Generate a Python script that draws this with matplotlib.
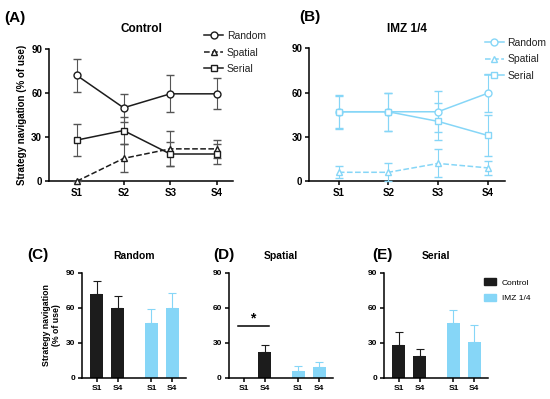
# -*- coding: utf-8 -*-
import numpy as np
import matplotlib
matplotlib.use('Agg')
import matplotlib.pyplot as plt
from matplotlib.patches import Patch
from matplotlib.lines import Line2D

plt.rcParams['font.family'] = ['Liberation Sans', 'DejaVu Sans']

# data (% of use, mean and SEM) per session
sessions = ['S1', 'S2', 'S3', 'S4']
ctrl_random = [72, 50, 59.5, 59.5]
ctrl_random_err = [11, 9.5, 12.5, 10.5]
ctrl_spatial = [0, 15.5, 22, 22]
ctrl_spatial_err = [0, 9.5, 12, 6]
ctrl_serial = [28, 34.5, 18.5, 18.5]
ctrl_serial_err = [11, 9.5, 8, 6.5]

imz_random = [47, 47, 47, 59.5]
imz_random_err = [11.5, 13, 14, 13]
imz_spatial = [6, 6, 12, 9]
imz_spatial_err = [4, 6, 9.5, 4.5]
imz_serial = [47, 47, 40.5, 31]
imz_serial_err = [11, 13, 12.5, 14]

bar_labels = ['S1', 'S4', 'S1', 'S4']
groups = ['Control', 'IMZ 1/4']
blue = '#86d6f7'
black = '#1c1c1c'

fig = plt.figure(figsize=(5.5, 3.99), dpi=100)


def style_axis(ax, fs):
    for s in ['top', 'right']:
        ax.spines[s].set_visible(False)
    for s in ['left', 'bottom']:
        ax.spines[s].set_linewidth(1.1)
    ax.tick_params(width=1.1, length=3, labelsize=fs, pad=2)
    for lb in ax.get_xticklabels() + ax.get_yticklabels():
        lb.set_fontweight('bold')


def line_panel(rect, data, color, title, ylabel=None, legpos=None):
    ax = fig.add_axes(rect)
    x = np.arange(1, 5)
    styles = [('o', '-', 'Random'), ('^', '--', 'Spatial'), ('s', '-', 'Serial')]
    ecol = '#555555' if color == black else color
    handles = []
    for (vals, err), (m, ls, name) in zip(data, styles):
        ax.errorbar(x, vals, yerr=err, color=color, ecolor=ecol, elinewidth=0.8,
                    capsize=3, capthick=0.8, marker=m, markersize=5,
                    markerfacecolor='white', markeredgewidth=1, linestyle=ls,
                    linewidth=1.1, clip_on=False, zorder=3)
        handles.append(Line2D([], [], color=color, marker=m, markersize=5,
                              markerfacecolor='white', linestyle=ls, linewidth=1.1))
    ax.set_xlim(0.4, 4.35)
    ax.set_ylim(0, 90)
    ax.set_yticks([0, 30, 60, 90])
    ax.set_xticks(x)
    ax.set_xticklabels(sessions)
    style_axis(ax, 7)
    ax.set_title(title, fontsize=8.5, fontweight='bold', pad=12)
    if ylabel:
        ax.set_ylabel(ylabel, fontsize=7, fontweight='bold', labelpad=3)
    leg = ax.legend(handles, ['Random', 'Spatial', 'Serial'], loc='upper left',
                    bbox_to_anchor=legpos, bbox_transform=fig.transFigure,
                    frameon=False, fontsize=7.5, handlelength=1.8,
                    handletextpad=0.35, labelspacing=0.62, borderpad=0)
    for t in leg.get_texts():
        t.set_color('#222222')
    return ax


# (A) Control
line_panel([0.089, 0.546, 0.335, 0.331], [(ctrl_random, ctrl_random_err),
           (ctrl_spatial, ctrl_spatial_err), (ctrl_serial, ctrl_serial_err)],
           black, 'Control', 'Strategy navigation (% of use)', (0.362, 0.935))
fig.text(0.008, 0.955, '(A)', fontsize=11, fontweight='bold', va='center')

# (B) IMZ 1/4
line_panel([0.562, 0.546, 0.356, 0.333], [(imz_random, imz_random_err),
           (imz_spatial, imz_spatial_err), (imz_serial, imz_serial_err)],
           blue, 'IMZ 1/4', None, (0.872, 0.918))
fig.text(0.545, 0.957, '(B)', fontsize=11, fontweight='bold', va='center')

# bar panels: S1 and S4 for each group
bar_x = [0, 1, 2.62, 3.62]
bar_sets = [
    ('Random', '(C)', ctrl_random, ctrl_random_err, imz_random, imz_random_err, 0.149, 0.049),
    ('Spatial', '(D)', ctrl_spatial, ctrl_spatial_err, imz_spatial, imz_spatial_err, 0.416, 0.387),
    ('Serial', '(E)', ctrl_serial, ctrl_serial_err, imz_serial, imz_serial_err, 0.698, 0.676),
]
for title, letter, cv, ce, iv, ie, left, lx in bar_sets:
    ax = fig.add_axes([left, 0.053, 0.19, 0.264])
    vals = [cv[0], cv[3], iv[0], iv[3]]
    errs = [ce[0], ce[3], ie[0], ie[3]]
    cols = [black, black, blue, blue]
    for xi, v, e, c in zip(bar_x, vals, errs, cols):
        ax.bar(xi, v, width=0.62, color=c, zorder=2)
        if v > 0:
            ax.errorbar(xi, v, yerr=[[0], [e]], color=c, elinewidth=0.8,
                        capsize=3, capthick=0.8, zorder=1)
    ax.set_xlim(-0.72, 4.3)
    ax.set_ylim(0, 90)
    ax.set_yticks([0, 30, 60, 90])
    ax.set_xticks(bar_x)
    ax.set_xticklabels(bar_labels)
    style_axis(ax, 6)
    ax.set_title(title, fontsize=7.5, fontweight='bold', pad=10)
    fig.text(lx, 0.36, letter, fontsize=11, fontweight='bold', va='center')
    if title == 'Random':
        ax.set_ylabel('Strategy navigation\n(% of use)', fontsize=6.3,
                      fontweight='bold', labelpad=3)
    if title == 'Spatial':
        ax.plot([-0.3, 1.2], [44, 44], color='black', linewidth=1.1)
        ax.text(0.45, 45, '*', ha='center', va='bottom', fontsize=10,
                fontweight='bold')
    if title == 'Serial':
        ax.legend([Patch(color=black), Patch(color=blue)], groups,
                  loc='upper left', bbox_to_anchor=(0.872, 0.313),
                  bbox_transform=fig.transFigure, frameon=False, fontsize=6,
                  handlelength=1.5, handleheight=0.9, handletextpad=0.7,
                  labelspacing=0.85, borderpad=0)

fig.savefig('out.png', dpi=100)
